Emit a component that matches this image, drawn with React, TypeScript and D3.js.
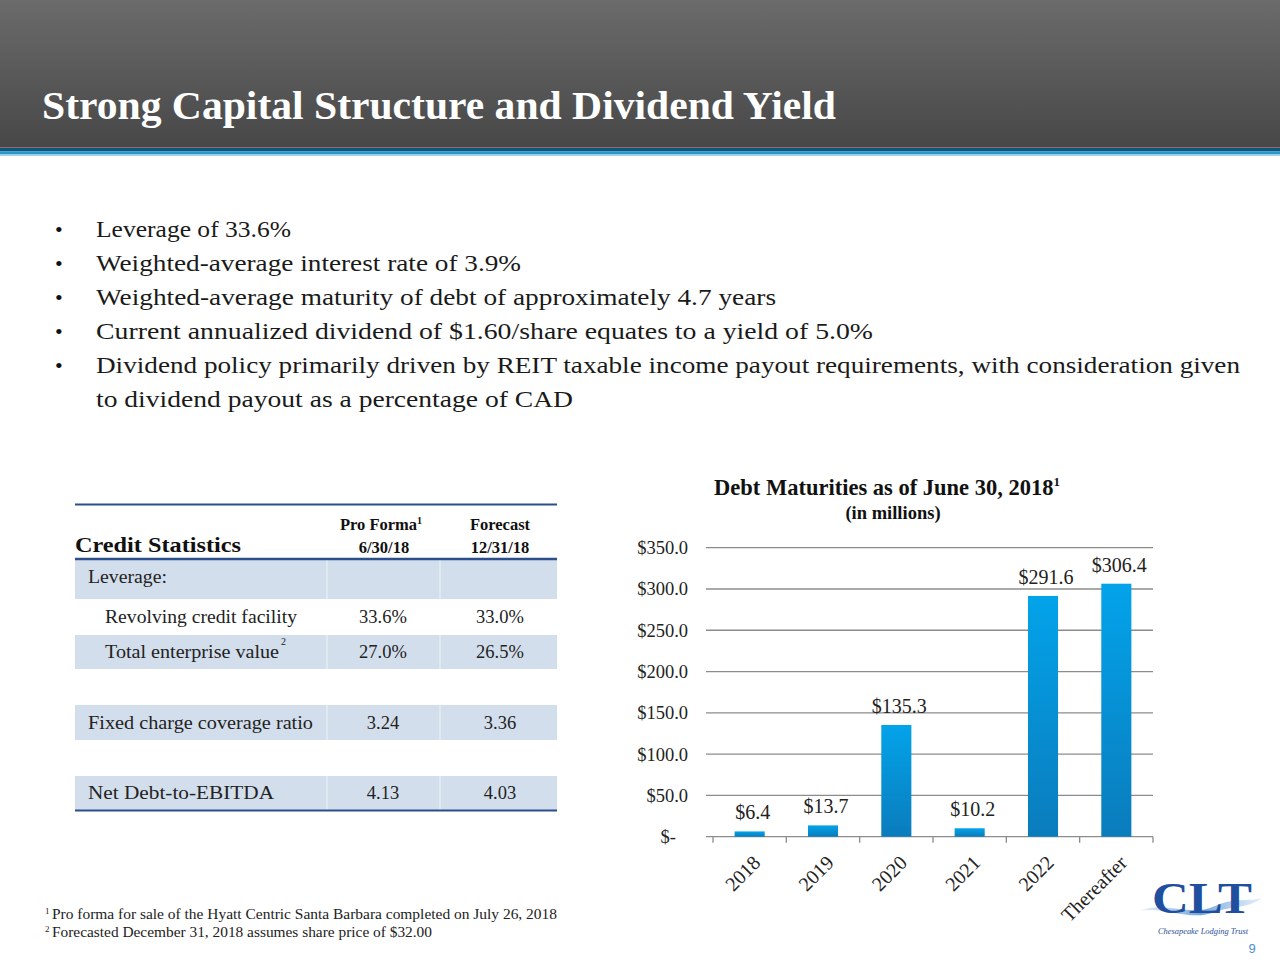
import React from "react";
import * as d3 from "d3";

// ---------- Data ----------
const categories = ["2018", "2019", "2020", "2021", "2022", "Thereafter"];
const maturities = [6.4, 13.7, 135.3, 10.2, 291.6, 306.4];
const yTicks = [0, 50, 100, 150, 200, 250, 300, 350];

const bullets = [
  "Leverage of 33.6%",
  "Weighted-average interest rate of 3.9%",
  "Weighted-average maturity of debt of approximately 4.7 years",
  "Current annualized dividend of $1.60/share equates to a yield of 5.0%",
  "Dividend policy primarily driven by REIT taxable income payout requirements, with consideration given",
];
const bulletContinuation = "to dividend payout as a percentage of CAD";
const bulletWidths = [195, 425, 680, 777, 1144];
const continuationWidth = 477;

const tableLabels = [
  "Leverage:",
  "Revolving credit facility",
  "Total enterprise value",
  "",
  "Fixed charge coverage ratio",
  "",
  "Net Debt-to-EBITDA",
];
const tableLabelWidths = [79, 192, 174, 0, 225, 0, 186];
const proForma = ["", "33.6%", "27.0%", "", "3.24", "", "4.13"];
const forecast = ["", "33.0%", "26.5%", "", "3.36", "", "4.03"];
const rowShaded = [true, false, true, false, true, false, true];
const rowIndent = [0, 1, 1, 0, 0, 0, 0];

const footnotes = [
  { sup: "1", text: "Pro forma for sale of the Hyatt Centric Santa Barbara completed on July 26, 2018", w: 505 },
  { sup: "2", text: "Forecasted December 31, 2018 assumes share price of $32.00", w: 380 },
];

const SERIF = "'Liberation Serif', 'Times New Roman', serif";

export default function App() {
  const x = d3
    .scaleBand<string>()
    .domain(categories)
    .range([713, 1153])
    .paddingInner(0.59)
    .paddingOuter(0.295);
  const y = d3.scaleLinear().domain([0, 350]).range([836.7, 547.7]);
  const fmt = d3.format(".1f");
  const step = x.step();
  const boundaries = d3.range(categories.length + 1).map((i) => 713 + i * step);

  const rowEdges = [559, 599, 635, 669, 705, 740, 776, 810];

  return (
    <div style={{ position: "absolute", left: 0, top: 0, width: 1280, height: 960 }}>
      <svg width={1280} height={960} style={{ display: "block" }} fontFamily={SERIF}>
        <defs>
          <linearGradient id="hdr" x1="0" y1="0" x2="0" y2="1">
            <stop offset="0%" stopColor="#6b6b6b" />
            <stop offset="100%" stopColor="#474747" />
          </linearGradient>
          <linearGradient id="bar" x1="0" y1="0" x2="0" y2="1">
            <stop offset="0%" stopColor="#03a3ea" />
            <stop offset="100%" stopColor="#0a7cbc" />
          </linearGradient>
          <linearGradient id="swoosh" x1="0" y1="0" x2="1" y2="0">
            <stop offset="0%" stopColor="#a9c8ea" stopOpacity="0.3" />
            <stop offset="50%" stopColor="#6fa3d8" />
            <stop offset="100%" stopColor="#a9c8ea" stopOpacity="0.3" />
          </linearGradient>
        </defs>

        <rect x={0} y={0} width={1280} height={960} fill="#ffffff" />

        {/* Header */}
        <rect x={0} y={0} width={1280} height={148} fill="url(#hdr)" />
        <rect x={0} y={147} width={1280} height={1} fill="#8a6f6f" />
        <rect x={0} y={148} width={1280} height={3.5} fill="#0d577f" />
        <rect x={0} y={151.5} width={1280} height={3} fill="#2a96c9" />
        <rect x={0} y={154.5} width={1280} height={1.5} fill="#9fd4ea" />
        <text
          x={42}
          y={119}
          fill="#ffffff"
          fontSize={40}
          fontWeight="bold"
          textLength={794}
          lengthAdjust="spacingAndGlyphs"
        >
          Strong Capital Structure and Dividend Yield
        </text>

        {/* Bullets */}
        {bullets.map((b, i) => (
          <g key={b}>
            <text x={55} y={237 + i * 34} fontSize={22} fill="#111">
              •
            </text>
            <text
              x={96}
              y={237 + i * 34}
              fontSize={24}
              fill="#1a1a1a"
              textLength={bulletWidths[i]}
              lengthAdjust="spacingAndGlyphs"
            >
              {b}
            </text>
          </g>
        ))}
        <text
          x={96}
          y={237 + 5 * 34}
          fontSize={24}
          fill="#1a1a1a"
          textLength={continuationWidth}
          lengthAdjust="spacingAndGlyphs"
        >
          {bulletContinuation}
        </text>

        {/* Table */}
        <g>
          {rowShaded.map((s, i) =>
            s ? (
              <rect
                key={"r" + i}
                x={75}
                y={rowEdges[i]}
                width={482}
                height={rowEdges[i + 1] - rowEdges[i]}
                fill="#d3deec"
              />
            ) : null
          )}
          {rowShaded.map((s, i) =>
            s ? (
              <g key={"sep" + i}>
                <line x1={327} x2={327} y1={rowEdges[i]} y2={rowEdges[i + 1]} stroke="#e4ebf4" strokeWidth={1.5} />
                <line x1={440} x2={440} y1={rowEdges[i]} y2={rowEdges[i + 1]} stroke="#e4ebf4" strokeWidth={1.5} />
              </g>
            ) : null
          )}
          <line x1={75} x2={557} y1={504.5} y2={504.5} stroke="#2c4f8c" strokeWidth={2} />
          <line x1={75} x2={557} y1={559} y2={559} stroke="#2c4f8c" strokeWidth={2.5} />
          <line x1={75} x2={557} y1={810.5} y2={810.5} stroke="#2c4f8c" strokeWidth={2} />

          <text x={75} y={552} fontSize={21} fontWeight="bold" fill="#111" textLength={166} lengthAdjust="spacingAndGlyphs">
            Credit Statistics
          </text>
          <text x={381} y={530} fontSize={16.5} fontWeight="bold" fill="#111" textAnchor="middle">
            Pro Forma
            <tspan fontSize={10} dy={-6}>1</tspan>
          </text>
          <text x={384} y={553} fontSize={16.5} fontWeight="bold" fill="#111" textAnchor="middle">
            6/30/18
          </text>
          <text x={500} y={530} fontSize={16.5} fontWeight="bold" fill="#111" textAnchor="middle">
            Forecast
          </text>
          <text x={500} y={553} fontSize={16.5} fontWeight="bold" fill="#111" textAnchor="middle">
            12/31/18
          </text>

          {tableLabels.map((lbl, i) => {
            const mid = (rowEdges[i] + rowEdges[i + 1]) / 2;
            const base = mid + 6;
            return (
              <g key={"t" + i}>
                {lbl ? (
                  <text
                    x={rowIndent[i] ? 105 : 88}
                    y={i === 0 ? base - 2 : base}
                    fontSize={18.5}
                    fill="#222"
                    textLength={tableLabelWidths[i]}
                    lengthAdjust="spacingAndGlyphs"
                  >
                    {lbl}
                  </text>
                ) : null}
                {i === 2 ? (
                  <text x={281} y={base - 13} fontSize={10} fill="#222">
                    2
                  </text>
                ) : null}
                {proForma[i] ? (
                  <text x={383} y={base} fontSize={18.5} fill="#222" textAnchor="middle">
                    {proForma[i]}
                  </text>
                ) : null}
                {forecast[i] ? (
                  <text x={500} y={base} fontSize={18.5} fill="#222" textAnchor="middle">
                    {forecast[i]}
                  </text>
                ) : null}
              </g>
            );
          })}
        </g>

        {/* Chart title */}
        <text x={887} y={495} fontSize={22.5} fontWeight="bold" fill="#111" textAnchor="middle">
          Debt Maturities as of June 30, 2018
          <tspan fontSize={13} dy={-9}>1</tspan>
        </text>
        <text x={893} y={519} fontSize={18.5} fontWeight="bold" fill="#111" textAnchor="middle">
          (in millions)
        </text>

        {/* Gridlines & y labels */}
        {yTicks.map((t) => (
          <g key={"g" + t}>
            <line x1={706} x2={1153} y1={y(t)} y2={y(t)} stroke="#8c8c8c" strokeWidth={1.3} />
            <text
              x={t === 0 ? 676 : 688}
              y={y(t) + 6.5}
              fontSize={18.5}
              fill="#222"
              textAnchor="end"
            >
              {t === 0 ? "$-" : "$" + fmt(t)}
            </text>
          </g>
        ))}
        {boundaries.map((bx, i) => (
          <line key={"tk" + i} x1={bx} x2={bx} y1={y(0)} y2={y(0) + 6} stroke="#8c8c8c" strokeWidth={1.3} />
        ))}

        {/* Bars */}
        {categories.map((c, i) => (
          <rect
            key={"b" + c}
            x={x(c)}
            y={y(maturities[i])}
            width={x.bandwidth()}
            height={y(0) - y(maturities[i])}
            fill="url(#bar)"
          />
        ))}

        {/* Data labels */}
        {categories.map((c, i) => (
          <text
            key={"l" + c}
            x={(x(c) as number) + x.bandwidth() / 2 + 3}
            y={y(maturities[i]) - 12}
            fontSize={20}
            fill="#222"
            textAnchor="middle"
          >
            {"$" + fmt(maturities[i])}
          </text>
        ))}

        {/* X labels */}
        {categories.map((c) => {
          const cx = (x(c) as number) + x.bandwidth() / 2 + 12;
          const cy = 864;
          return (
            <text
              key={"x" + c}
              x={cx}
              y={cy}
              fontSize={20}
              fill="#222"
              textAnchor="end"
              transform={`rotate(-45 ${cx} ${cy})`}
            >
              {c}
            </text>
          );
        })}

        {/* Footnotes */}
        {footnotes.map((f, i) => (
          <g key={"f" + i}>
            <text x={45} y={914 + i * 18} fontSize={9} fill="#222">
              {f.sup}
            </text>
            <text x={52} y={919 + i * 18} fontSize={14} fill="#222" textLength={f.w} lengthAdjust="spacingAndGlyphs">
              {f.text}
            </text>
          </g>
        ))}

        {/* Logo */}
        <g>
          <path
            d="M1140,911 C1165,900 1190,918 1215,906 C1235,897 1250,902 1262,898 C1250,908 1232,906 1215,912 C1190,922 1165,906 1140,911 Z"
            fill="url(#swoosh)"
          />
          <text x={1202} y={913} fontSize={44} fontWeight="bold" fill="#1f4f9e" textAnchor="middle" textLength={100} lengthAdjust="spacingAndGlyphs">
            CLT
          </text>
          <text x={1203} y={934} fontSize={9} fontStyle="italic" fill="#2b4f9a" textAnchor="middle" textLength={90} lengthAdjust="spacingAndGlyphs">
            Chesapeake Lodging Trust
          </text>
          <text x={1252} y={953} fontSize={13} fill="#4a8fd0" textAnchor="middle" fontFamily="'Liberation Sans', Arial, sans-serif">
            9
          </text>
        </g>
      </svg>
    </div>
  );
}
